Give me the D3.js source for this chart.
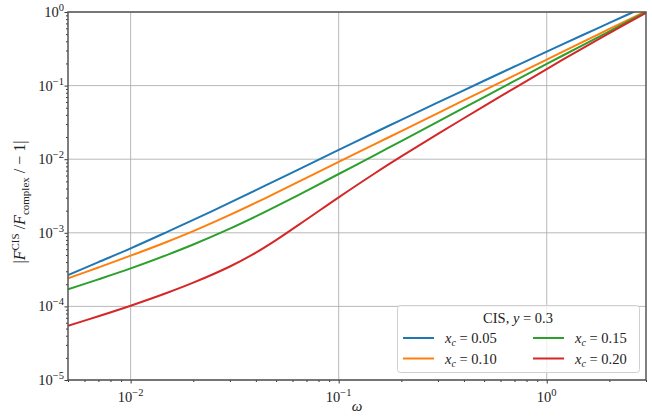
<!DOCTYPE html>
<html><head><meta charset="utf-8">
<script src="https://cdn.jsdelivr.net/npm/d3@7"></script>
<style>
html,body{margin:0;padding:0;background:#fff;}
svg{display:block;font-family:"Liberation Serif","DejaVu Serif",serif;}
</style></head>
<body><svg id="chart" width="652" height="417"></svg>
<script>
// ---- data ----
const omega = [0.005,0.007,0.01,0.015,0.02,0.03,0.04,0.05,0.07,0.1,0.15,0.2,0.3,0.5,0.7,1,1.5,2,3];
const xc005 = [2.67e-4,4.00e-4,6.15e-4,1.030e-3,1.496e-3,2.564e-3,3.793e-3,5.152e-3,8.185e-3,1.340e-2,2.323e-2,3.428e-2,5.902e-2,0.1164,0.1816,0.2897,0.4909,0.7112,1.194];
const xc010 = [2.41e-4,3.373e-4,4.887e-4,7.568e-4,1.054e-3,1.750e-3,2.564e-3,3.483e-3,5.572e-3,9.183e-3,1.614e-2,2.410e-2,4.236e-2,8.630e-2,0.1377,0.2259,0.3954,0.5888,1.026];
const xc015 = [1.71e-4,2.33e-4,3.28e-4,5.023e-4,6.934e-4,1.138e-3,1.667e-3,2.280e-3,3.715e-3,6.295e-3,1.146e-2,1.766e-2,3.24e-2,6.98e-2,0.1156,0.197,0.358,0.547,1.0];
const xc020 = [5.47e-5,7.345e-5,1.021e-4,1.531e-4,2.099e-4,3.483e-4,5.370e-4,7.943e-4,1.514e-3,3.034e-3,6.501e-3,1.091e-2,2.208e-2,5.260e-2,9.247e-2,0.1679,0.3266,0.5176,0.9705];
const seriesLabels = ["0.05","0.10","0.15","0.20"];
const seriesColors = ["#1f77b4","#ff7f0e","#2ca02c","#d62728"];
const xTickExps = [-2,-1,0];
const yTickExps = [-5,-4,-3,-2,-1,0];
const legendTitle = ["CIS, ", "y", " = 0.3"];

const series = [xc005, xc010, xc015, xc020];

// ---- layout ----
const L = 68, R = 646, T = 12, B = 380;
const svg = d3.select("#chart");
const x = d3.scaleLog().domain([0.005, 3]).range([L, R]);
const y = d3.scaleLog().domain([1e-5, 1]).range([B, T]);

// grid
const g = svg.append("g");
xTickExps.forEach(e => {
  g.append("line").attr("x1", x(10**e)).attr("x2", x(10**e)).attr("y1", T).attr("y2", B)
   .attr("stroke", "#b0b0b0").attr("stroke-width", 0.9);
});
yTickExps.forEach(e => {
  g.append("line").attr("x1", L).attr("x2", R).attr("y1", y(10**e)).attr("y2", y(10**e))
   .attr("stroke", "#b0b0b0").attr("stroke-width", 0.9);
});

// minor ticks
const xMinor = [];
[-3,-2,-1,0].forEach(e => { for (let m = 2; m <= 9; m++) { const v = m * 10**e; if (v >= 0.005 && v <= 3.0001) xMinor.push(v); } });
const yMinor = [];
[-5,-4,-3,-2,-1].forEach(e => { for (let m = 2; m <= 9; m++) yMinor.push(m * 10**e); });

const axX = d3.axisBottom(x).tickValues(xMinor).tickSize(2).tickFormat("");
const axXM = d3.axisBottom(x).tickValues(xTickExps.map(e => 10**e)).tickSize(3.5).tickFormat("");
const axY = d3.axisLeft(y).tickValues(yMinor).tickSize(2).tickFormat("");
const axYM = d3.axisLeft(y).tickValues(yTickExps.map(e => 10**e)).tickSize(3.5).tickFormat("");
[axX, axXM].forEach(a => {
  const gg = svg.append("g").attr("transform", `translate(0,${B})`).call(a);
  gg.select(".domain").remove();
  gg.selectAll("line").attr("stroke", "#000").attr("stroke-width", 0.8);
});
[axY, axYM].forEach(a => {
  const gg = svg.append("g").attr("transform", `translate(${L},0)`).call(a);
  gg.select(".domain").remove();
  gg.selectAll("line").attr("stroke", "#000").attr("stroke-width", 0.8);
});

// tick labels
function pow10Label(parent, px, py, e, anchor) {
  const t = parent.append("text").attr("x", px).attr("y", py).attr("text-anchor", anchor)
    .attr("font-size", 14.5).attr("fill", "#222");
  t.append("tspan").text("10");
  t.append("tspan").attr("dy", -6).attr("font-size", 10.5).text(e < 0 ? "\u2212" + (-e) : String(e));
}
xTickExps.forEach(e => pow10Label(svg, x(10**e), 402, e, "middle"));
yTickExps.forEach(e => pow10Label(svg, 64, y(10**e) + 5, e, "end"));

// axis labels
svg.append("text").attr("x", (L + R) / 2).attr("y", 411).attr("text-anchor", "middle")
  .attr("font-size", 15).attr("font-style", "italic").attr("fill", "#222").text("\u03C9");

const yl = svg.append("text").attr("transform", `translate(25,${(T + B) / 2 + 6}) rotate(-90)`)
  .attr("text-anchor", "middle").attr("font-size", 16).attr("fill", "#222");
yl.append("tspan").text("|");
yl.append("tspan").attr("font-style", "italic").text("F");
yl.append("tspan").attr("dy", -6).attr("font-size", 11).text("CIS");
yl.append("tspan").attr("dy", 6).text(" /");
yl.append("tspan").attr("font-style", "italic").text("F");
yl.append("tspan").attr("dy", 4).attr("font-size", 11).text("complex");
yl.append("tspan").attr("dy", -4).text(" /  \u2212  1|");

// curves
svg.append("clipPath").attr("id", "clip").append("rect")
  .attr("x", L).attr("y", T).attr("width", R - L).attr("height", B - T);
const line = d3.line().x(d => x(d[0])).y(d => y(d[1])).curve(d3.curveCatmullRom.alpha(0.5));
const cg = svg.append("g").attr("clip-path", "url(#clip)");
series.forEach((s, i) => {
  cg.append("path").datum(omega.map((o, j) => [o, s[j]]))
    .attr("d", line).attr("fill", "none").attr("stroke", seriesColors[i]).attr("stroke-width", 2);
});

// frame
svg.append("rect").attr("x", L).attr("y", T).attr("width", R - L).attr("height", B - T)
  .attr("fill", "none").attr("stroke", "#555").attr("stroke-width", 1.5);

// legend
const lg = svg.append("g");
lg.append("rect").attr("x", 397.5).attr("y", 305.5).attr("width", 242).attr("height", 67).attr("rx", 3)
  .attr("fill", "#fff").attr("fill-opacity", 0.8).attr("stroke", "#d0d0d0").attr("stroke-width", 1);
const lt = lg.append("text").attr("x", 518).attr("y", 323).attr("text-anchor", "middle")
  .attr("font-size", 14.5).attr("fill", "#222");
lt.append("tspan").text(legendTitle[0]);
lt.append("tspan").attr("font-style", "italic").text(legendTitle[1]);
lt.append("tspan").text(legendTitle[2]);
const pos = [[403, 338], [403, 358.5], [533, 338], [533, 358.5]];
series.forEach((s, i) => {
  const [lx, ly] = pos[i];
  lg.append("line").attr("x1", lx).attr("x2", lx + 31).attr("y1", ly).attr("y2", ly)
    .attr("stroke", seriesColors[i]).attr("stroke-width", 2);
  const t = lg.append("text").attr("x", lx + 42).attr("y", ly + 5).attr("font-size", 14.5).attr("fill", "#222");
  t.append("tspan").attr("font-style", "italic").text("x");
  t.append("tspan").attr("font-style", "italic").attr("font-size", 10).attr("dy", 3).text("c");
  t.append("tspan").attr("dy", -3).text(" = " + seriesLabels[i]);
});
</script></body></html>
